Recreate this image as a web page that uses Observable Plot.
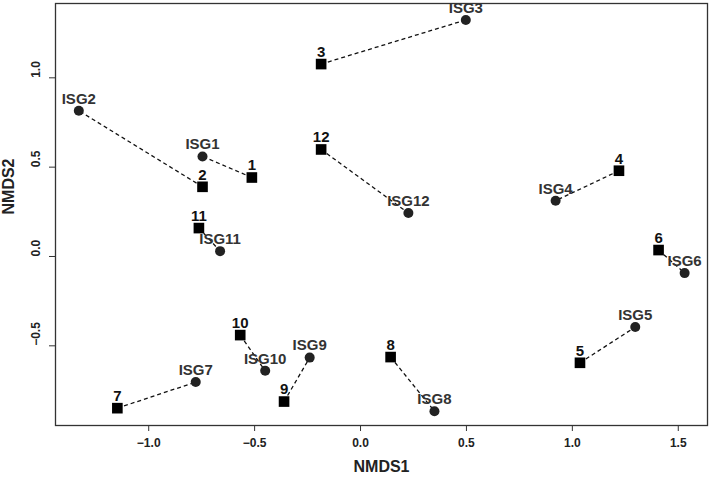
<!DOCTYPE html>
<html>
<head>
<meta charset="utf-8">
<script src="https://cdn.jsdelivr.net/npm/d3@7"></script>
<script src="https://cdn.jsdelivr.net/npm/@observablehq/plot@0.6"></script>
<style>
  html, body { margin: 0; padding: 0; background: #fff; }
  #chart svg { display: block; }
</style>
</head>
<body>
<div id="chart"></div>
<script>
// Site (circle) coordinates
const isgLabels = ["ISG1","ISG2","ISG3","ISG4","ISG5","ISG6","ISG7","ISG8","ISG9","ISG10","ISG11","ISG12"];
const isgX = [-0.746, -1.330, 0.497, 0.921, 1.297, 1.530, -0.778, 0.349, -0.240, -0.450, -0.663, 0.226];
const isgY = [0.560, 0.816, 1.324, 0.312, -0.395, -0.093, -0.703, -0.866, -0.566, -0.640, 0.030, 0.243];
// Paired (square) coordinates
const numLabels = ["1","2","3","4","5","6","7","8","9","10","11","12"];
const numX = [-0.513, -0.746, -0.186, 1.220, 1.036, 1.407, -1.148, 0.142, -0.361, -0.568, -0.763, -0.186];
const numY = [0.442, 0.390, 1.077, 0.480, -0.595, 0.036, -0.849, -0.563, -0.812, -0.440, 0.159, 0.599];
// Axis ticks
const xTicks = [-1.0, -0.5, 0.0, 0.5, 1.0, 1.5];
const yTicks = [-0.5, 0.0, 0.5, 1.0];
const xTitle = "NMDS1";
const yTitle = "NMDS2";

const circles = isgLabels.map((l, i) => ({label: l, x: isgX[i], y: isgY[i]}));
const squares = numLabels.map((l, i) => ({label: l, x: numX[i], y: numY[i]}));
const pairs = squares.map((s, i) => ({x1: s.x, y1: s.y, x2: circles[i].x, y2: circles[i].y}));

const fmt = d3.format(".1f");
const ink = "#222";
const font = "'Liberation Sans', Arial, Helvetica, sans-serif";

const chart = Plot.plot({
  width: 709,
  height: 478,
  marginLeft: 55,
  marginRight: 2,
  marginTop: 3,
  marginBottom: 53,
  style: {fontFamily: font, background: "#fff", color: ink},
  x: {domain: [-1.440, 1.638]},
  y: {domain: [-0.946, 1.416]},
  marks: [
    Plot.frame({stroke: "#333", strokeWidth: 1.3}),
    Plot.axisX({ticks: xTicks, tickSize: 6, tickPadding: 7, tickFormat: fmt, label: null,
      fontSize: 12, fontWeight: "bold", stroke: null, fill: ink}),
    Plot.axisX({ticks: xTicks, tickSize: 6, text: null, label: null, stroke: "#333"}),
    Plot.axisY({ticks: yTicks, tickSize: 6, text: null, label: null, stroke: "#333"}),
    Plot.text(yTicks, {y: d => d, text: d => fmt(d), frameAnchor: "left", dx: -19, rotate: -90,
      fontSize: 12, fontWeight: "bold", fill: ink}),
    Plot.text([xTitle], {frameAnchor: "bottom", dy: 46, fontSize: 16, fontWeight: "bold", fill: ink}),
    Plot.text([yTitle], {frameAnchor: "left", dx: -47, rotate: -90, fontSize: 16, fontWeight: "bold", fill: ink}),
    Plot.link(pairs, {x1: "x1", y1: "y1", x2: "x2", y2: "y2", stroke: "#111", strokeWidth: 1.3, strokeDasharray: "4,3"}),
    Plot.dot(circles, {x: "x", y: "y", r: 5, fill: "#222", stroke: null}),
    Plot.dot(squares, {x: "x", y: "y", symbol: "square", r: 6, fill: "#000", stroke: null}),
    Plot.text(circles, {x: "x", y: "y", text: "label", dy: -12, fontSize: 15, fontWeight: "bold", fill: "#333"}),
    Plot.text(squares, {x: "x", y: "y", text: "label", dy: -12, fontSize: 15, fontWeight: "bold", fill: "#111"})
  ]
});
document.getElementById("chart").appendChild(chart);
</script>
</body>
</html>
